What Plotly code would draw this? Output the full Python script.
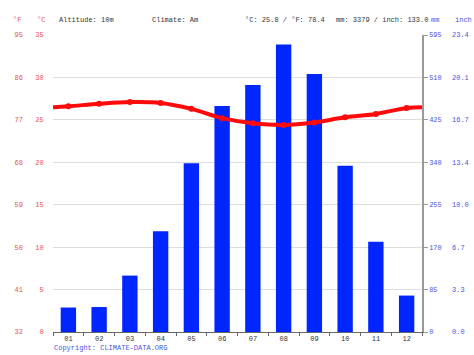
import plotly.graph_objects as go

months = ["01", "02", "03", "04", "05", "06", "07", "08", "09", "10", "11", "12"]
temp_c = [26.6, 26.9, 27.1, 27.0, 26.3, 25.2, 24.6, 24.4, 24.7, 25.3, 25.7, 26.4]
precip_mm = [49, 50, 113, 202, 338, 453, 495, 576, 517, 333, 181, 73]

c_ticks = [0, 5, 10, 15, 20, 25, 30, 35]
f_ticks = [32, 41, 50, 59, 68, 77, 86, 95]
mm_ticks = [0, 85, 170, 255, 340, 425, 510, 595]
inch_labels = ["0.0", "3.3", "6.7", "10.0", "13.4", "16.7", "20.1", "23.4"]

header_left = "Altitude: 10m"
header_climate = "Climate: Am"
header_temp = "°C: 25.8 / °F: 78.4"
header_prec = "mm: 3379 / inch: 133.0"
copyright_txt = "Copyright: CLIMATE-DATA.ORG"

W, H = 474, 355
L, R, T, B = 53, 422, 35, 332
FONT = "Liberation Mono, DejaVu Sans Mono, monospace"
RED_T = "#e8504f"
BLUE_T = "#4a55dd"
DARK = "#333333"
FS = 7

xs = list(range(1, 13))
# wrap the temperature curve to the plot edges using the Dec/Jan mean
edge = (temp_c[0] + temp_c[-1]) / 2
line_x = [0.5] + xs + [12.5]
line_y = [edge] + temp_c + [edge]

fig = go.Figure()
fig.add_trace(go.Bar(x=xs, y=precip_mm, width=0.5, marker=dict(color="#0026ff", line=dict(width=0)),
                     yaxis="y", hoverinfo="skip"))
fig.add_trace(go.Scatter(x=line_x, y=line_y, mode="lines", line=dict(color="#ff0a0a", width=4, shape="spline"),
                         yaxis="y2", hoverinfo="skip"))
fig.add_trace(go.Scatter(x=xs, y=temp_c, mode="markers", marker=dict(color="#ff0a0a", size=6),
                         yaxis="y2", hoverinfo="skip"))
# invisible traces so that the °F and inch axes get drawn
fig.add_trace(go.Scatter(x=[xs[0]], y=[f_ticks[0]], mode="markers", marker=dict(opacity=0),
                         yaxis="y3", hoverinfo="skip"))
fig.add_trace(go.Scatter(x=[xs[0]], y=[0], mode="markers", marker=dict(opacity=0),
                         yaxis="y4", hoverinfo="skip"))

fig.update_layout(
    width=W, height=H,
    margin=dict(l=0, r=0, t=T, b=H - B, pad=0),
    paper_bgcolor="white", plot_bgcolor="white",
    showlegend=False,
    font=dict(family=FONT, size=FS, color=DARK),
    xaxis=dict(domain=[L / W, R / W], range=[0.5, 12.5], tickvals=xs, ticktext=months,
               ticks="", showline=True, linecolor="#666666", linewidth=1, showgrid=False, zeroline=False,
               tickfont=dict(color=DARK, size=FS), fixedrange=True,
               minor=dict(tick0=0.5, dtick=1, ticks="outside", ticklen=3, tickcolor="#666666", showgrid=False)),
    yaxis=dict(range=[0, 595], tickvals=mm_ticks, side="right", anchor="x", showline=True,
               linecolor="#999999", linewidth=1.5, ticks="outside", ticklen=4, tickcolor="#999999",
               showgrid=True, gridcolor="#dddddd", gridwidth=1, zeroline=False,
               tickfont=dict(color=BLUE_T, size=FS)),
    yaxis2=dict(range=[0, 35], tickvals=c_ticks, side="left", anchor="x", overlaying="y",
                showgrid=False, zeroline=False, showline=False, ticks="outside", ticklen=7,
                tickcolor="rgba(0,0,0,0)", tickfont=dict(color=RED_T, size=FS)),
    yaxis3=dict(range=[32, 95], tickvals=f_ticks, side="left", anchor="free", position=23 / W,
                overlaying="y", showgrid=False, zeroline=False, showline=False, ticks="",
                tickfont=dict(color=RED_T, size=FS)),
    yaxis4=dict(range=[0, 595 / 25.4], tickvals=[v / 25.4 for v in mm_ticks], ticktext=inch_labels,
                side="right", anchor="free", position=451 / W, overlaying="y", showgrid=False,
                zeroline=False, showline=False, ticks="", tickfont=dict(color=BLUE_T, size=FS)),
)

ph = B - T
hy = 1 + (T - 20) / ph


def ann(text, x, color, anchor="left", y=hy):
    fig.add_annotation(text=text, x=x / W, y=y, xref="paper", yref="paper", xanchor=anchor,
                       yanchor="middle", showarrow=False, font=dict(family=FONT, size=FS, color=color))


ann("°F", 17, RED_T, "center")
ann("°C", 41, RED_T, "center")
ann(header_left, 57, DARK)
ann(header_climate, 150, DARK)
ann(header_temp, 243, DARK)
ann(header_prec, 334, DARK)
ann("mm", 429, BLUE_T)
ann("inch", 453, BLUE_T)
ann(copyright_txt, 52, BLUE_T, "left", -(348 - B) / ph)

fig.write_html("out.html", config={"displayModeBar": False},
               post_script="document.body.style.margin='0';document.body.style.overflow='hidden';")
